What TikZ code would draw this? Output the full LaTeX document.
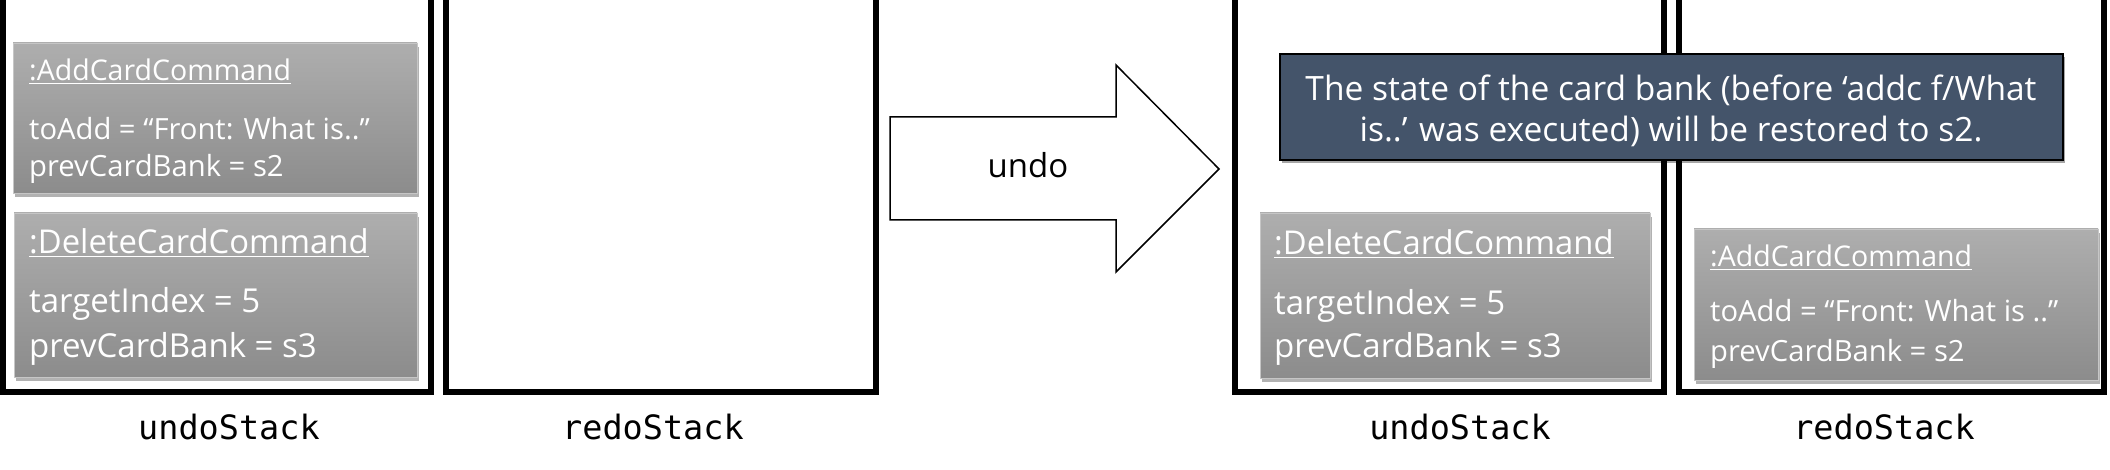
\documentclass[tikz,border=0pt]{standalone}
\usepackage{fontspec}
\setmainfont{Open Sans}
\setmonofont{DejaVu Sans Mono}
\usetikzlibrary{shadows}
\definecolor{boxtop}{HTML}{AEAEAE}
\definecolor{boxbot}{HTML}{8C8C8C}
\definecolor{notefill}{HTML}{44546A}
\newcommand\titlefontS{\fontsize{28.5}{34}\selectfont}
\newcommand\attrfontS{\fontsize{29.2}{35}\selectfont}
\newcommand\titlefontL{\fontsize{32.8}{39}\selectfont}
\newcommand\attrfontL{\fontsize{33}{39}\selectfont}
\newcommand\notefontX{\fontsize{33.5}{41}\selectfont}
\newcommand\labelfontX{\fontsize{33.5}{40}\selectfont\ttfamily}
\begin{document}
\begin{tikzpicture}[x=1pt,y=-1pt,
  stackline/.style={line width=6pt, line join=miter, line cap=butt},
  cmdbox/.style={rectangle, inner sep=0pt, outer sep=0pt, anchor=north west,
    top color=boxtop, bottom color=boxbot, draw=boxtop!70!white, line width=0.8pt,
    drop shadow={shadow xshift=1.5pt, shadow yshift=-4pt, opacity=0.3, fill=black}},
  notebox/.style={rectangle, inner sep=0pt, outer sep=0pt, anchor=north west,
    fill=notefill, draw=black, line width=2pt,
    drop shadow={shadow xshift=2pt, shadow yshift=-3pt, opacity=0.35, fill=black}},
  boxtext/.style={text=white, inner sep=0pt, anchor=base west},
  notetext/.style={text=white, inner sep=0pt, anchor=base, font=\notefontX},
  stacklabel/.style={inner sep=0pt, anchor=base, font=\labelfontX},
  arrowshape/.style={draw=black, fill=white, line width=1.5pt, line join=miter}
]
\useasboundingbox (0,0) rectangle (2110,470);

% stacks
\draw[stackline] (3,0) -- (3,392) -- (431,392) -- (431,0);
\draw[stackline] (446,0) -- (446,392) -- (876,392) -- (876,0);
\draw[stackline] (1235,0) -- (1235,392) -- (1664,392) -- (1664,0);
\draw[stackline] (1679,0) -- (1679,392) -- (2104,392) -- (2104,0);

% stack labels
\node[stacklabel] (lu1) at (229,439) {undoStack};
\node[stacklabel] (lr1) at (653,439) {redoStack};
\node[stacklabel] (lu2) at (1460,439) {undoStack};
\node[stacklabel] (lr2) at (1884,439) {redoStack};

% left undo stack: AddCardCommand
\node[cmdbox, minimum width=404pt, minimum height=150pt] (b1) at (13,43) {};
\node[boxtext, font=\titlefontS] (b1t) at (29,81) {\underline{:AddCardCommand}};
\node[boxtext, font=\attrfontS] (b1a) at (29,140) {toAdd = “Front: What is..”};
\node[boxtext, font=\attrfontS] (b1b) at (29,177) {prevCardBank = s2};

% left undo stack: DeleteCardCommand
\node[cmdbox, minimum width=403pt, minimum height=164pt] (b2) at (14,213) {};
\node[boxtext, font=\titlefontL] (b2t) at (29,254) {\underline{:DeleteCardCommand}};
\node[boxtext, font=\attrfontL] (b2a) at (29,313) {targetIndex = 5};
\node[boxtext, font=\attrfontL] (b2b) at (29,357) {prevCardBank = s3};

% arrow
\draw[arrowshape] (890,117) -- (1116,117) -- (1116,65) -- (1219,169) -- (1116,272) -- (1116,220) -- (890,220) -- cycle;
\node[inner sep=0pt, anchor=base, font=\fontsize{33}{39}\selectfont] (undolbl) at (1028,178) {undo};

% right undo stack: DeleteCardCommand
\node[cmdbox, minimum width=390pt, minimum height=165pt] (b3) at (1260,213) {};
\node[boxtext, font=\titlefontL] (b3t) at (1274,255) {\underline{:DeleteCardCommand}};
\node[boxtext, font=\attrfontL] (b3a) at (1274,315) {targetIndex = 5};
\node[boxtext, font=\attrfontL] (b3b) at (1274,358) {prevCardBank = s3};

% right redo stack: AddCardCommand
\node[cmdbox, minimum width=404pt, minimum height=151pt] (b4) at (1694,229) {};
\node[boxtext, font=\titlefontS] (b4t) at (1710,267) {\underline{:AddCardCommand}};
\node[boxtext, font=\attrfontS] (b4a) at (1710,322) {toAdd = “Front: What is ..”};
\node[boxtext, font=\attrfontS] (b4b) at (1710,362) {prevCardBank = s2};

% note
\node[notebox, minimum width=783pt, minimum height=106pt] (note) at (1280,54) {};
\node[notetext] (note1) at (1671,101) {The state of the card bank (before ‘addc f/What};
\node[notetext] (note2) at (1671,142) {is..’ was executed) will be restored to s2.};
\end{tikzpicture}
\end{document}
